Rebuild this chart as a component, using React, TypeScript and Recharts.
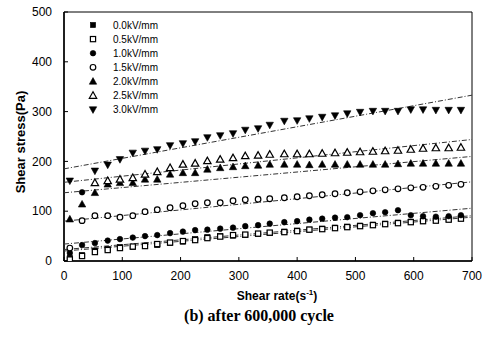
import { ComposedChart, Scatter, XAxis, YAxis, ReferenceArea } from 'recharts'

// shear rate (s^-1) of the measured points
const rate = [10, 31, 53, 75, 96, 118, 139, 160, 182, 204, 225, 246, 268, 290, 311, 333, 353, 378, 400, 421, 443, 465, 486, 508, 530, 551, 573, 595, 616, 638, 660, 681]

// shear stress (Pa) per field strength
const kv00 = [6, 12, 21, 24, 28, 28, 31, 32, 36, 39, 44, 48, 50, 51, 52, 54, 56, 59, 61, 63, 65, 67, 69, 71, 73, 75, 77, 79, 80, 82, 84, 86]
const kv05 = [3, 10, 18, 22, 26, 29, 30, 34, 37, 40, 42, 46, 49, 52, 53, 55, 57, 58, 60, 63, 64, 66, 68, 70, 72, 74, 76, 78, 80, 81, 83, 85]
const kv10 = [16, 32, 36, 41, 44, 47, 50, 52, 56, 59, 62, 63, 65, 67, 70, 72, 75, 78, 80, 83, 85, 87, 88, 92, 96, 98, 102, 92, 90, 89, 90, 92]
const kv15 = [26, 81, 91, 91, 88, 91, 99, 103, 107, 111, 115, 117, 117, 121, 123, 124, 125, 127, 129, 131, 133, 135, 137, 139, 141, 143, 145, 147, 148, 150, 152, 154]
const kv20 = [84, 114, 137, 154, 157, 157, 164, 164, 174, 177, 177, 184, 187, 189, 191, 192, 194, 194, 194, 193, 194, 194, 194, 194, 194, 194, 195, 196, 196, 196, 196, 196]
const kv25 = [null, null, 157, 161, 164, 167, 174, 179, 187, 194, 196, 201, 204, 207, 211, 212, 214, 215, 215, 215, 216, 217, 218, 219, 220, 221, 222, 224, 226, 227, 227, 228]
const kv30 = [161, null, 181, 193, 204, 217, 221, 224, 232, 236, 240, 248, 252, 256, 263, 266, 273, 281, 282, 286, 289, 292, 296, 299, 301, 301, 301, 304, 304, 303, 303, 303]
const kv10Extra = [{ x: 31, y: 138 }]

// fitted lines: stress at rate 0 and at rate 700
const fitStart = [20, 23, 34, 80, 137, 158, 185]
const fitEnd = [88, 91, 106, 159, 210, 244, 333]

const labels = ['0.0kV/mm', '0.5kV/mm', '1.0kV/mm', '1.5kV/mm', '2.0kV/mm', '2.5kV/mm', '3.0kV/mm']
const xTicks = [0, 100, 200, 300, 400, 500, 600, 700]
const yTicks = [0, 100, 200, 300, 400, 500]

const toPoints = (ys: (number | null)[]) =>
  rate.map((x, i) => ({ x, y: ys[i] })).filter((p) => p.y !== null)

type Kind = 'sq' | 'circ' | 'up' | 'down'
const marker = (kind: Kind, open: boolean, cx: number, cy: number) => {
  const fill = open ? '#fff' : '#000'
  const sw = open ? 1.2 : 0.6
  if (kind === 'sq') return <rect x={cx - 2.6} y={cy - 2.6} width={5.2} height={5.2} fill={fill} stroke="#000" strokeWidth={sw} />
  if (kind === 'circ') return <circle cx={cx} cy={cy} r={2.8} fill={fill} stroke="#000" strokeWidth={sw} />
  if (kind === 'up')
    return <polygon points={`${cx},${cy - 3.8} ${cx - 3.7},${cy + 2.8} ${cx + 3.7},${cy + 2.8}`} fill={fill} stroke="#000" strokeWidth={sw} />
  return <polygon points={`${cx},${cy + 3.8} ${cx - 3.7},${cy - 2.8} ${cx + 3.7},${cy - 2.8}`} fill={fill} stroke="#000" strokeWidth={sw} />
}

const styles: { kind: Kind; open: boolean }[] = [
  { kind: 'sq', open: false },
  { kind: 'sq', open: true },
  { kind: 'circ', open: false },
  { kind: 'circ', open: true },
  { kind: 'up', open: false },
  { kind: 'up', open: true },
  { kind: 'down', open: false },
]
const seriesData = [kv00, kv05, kv10, kv15, kv20, kv25, kv30].map(toPoints)
seriesData[2] = [...seriesData[2], ...kv10Extra]

const LegendBox = () => (
  <svg width={90} height={100} style={{ position: 'absolute', left: 85, top: 17 }}>
    {labels.map((l, i) => (
      <g key={l}>
        {marker(styles[i].kind, styles[i].open, 8, 8 + i * 14.1)}
        <text x={28} y={8 + i * 14.1} dy="0.35em" fontSize={10} fontFamily="Liberation Sans, Arial" fill="#000">
          {l}
        </text>
      </g>
    ))}
  </svg>
)

export default function App() {
  const font = 'Liberation Sans, Arial, sans-serif'
  return (
    <div style={{ position: 'absolute', left: 0, top: 0, width: 489, height: 337, background: '#fff' }}>
      <ComposedChart width={489} height={337} margin={{ top: 12, right: 17, bottom: 56, left: 0 }}>
        <XAxis
          type="number"
          dataKey="x"
          domain={[0, 700]}
          ticks={xTicks}
          height={20}
          tickSize={-4}
          tickMargin={14}
          axisLine={{ stroke: '#000', strokeWidth: 1.5 }}
          tickLine={{ stroke: '#000' }}
          tick={{ fill: '#000', fontSize: 12, fontFamily: font }}
          allowDataOverflow
        />
        <YAxis
          type="number"
          dataKey="y"
          domain={[0, 500]}
          ticks={yTicks}
          width={64}
          tickSize={-4}
          tickMargin={16}
          axisLine={{ stroke: '#000', strokeWidth: 1.5 }}
          tickLine={{ stroke: '#000' }}
          tick={{ fill: '#000', fontSize: 12, fontFamily: font }}
          allowDataOverflow
        />
        <ReferenceArea x1={0} x2={700} y1={0} y2={500} fill="none" stroke="#000" strokeWidth={1} ifOverflow="visible" />
        {fitStart.map((a, i) => (
          <Scatter
            key={'fit' + i}
            data={[
              { x: 0, y: a },
              { x: 700, y: fitEnd[i] },
            ]}
            line={{ stroke: '#333', strokeWidth: 1, strokeDasharray: '5 2 1 2' }}
            shape={() => <g />}
            legendType="none"
            isAnimationActive={false}
          />
        ))}
        {seriesData.map((d, i) => (
          <Scatter
            key={labels[i]}
            name={labels[i]}
            data={d}
            shape={(p: any) => marker(styles[i].kind, styles[i].open, p.cx, p.cy)}
            isAnimationActive={false}
          />
        ))}
      </ComposedChart>
      <LegendBox />
      <div
        style={{
          position: 'absolute',
          left: 20,
          top: 142,
          transform: 'translate(-50%, -50%) rotate(-90deg)',
          fontFamily: font,
          fontWeight: 'bold',
          fontSize: 13,
          whiteSpace: 'nowrap',
        }}
      >
        Shear stress(Pa)
      </div>
      <div
        style={{
          position: 'absolute',
          left: 277,
          top: 295,
          transform: 'translate(-50%, -50%)',
          fontFamily: font,
          fontWeight: 'bold',
          fontSize: 12,
          whiteSpace: 'nowrap',
        }}
      >
        Shear rate(s<sup style={{ fontSize: 8 }}>-1</sup>)
      </div>
      <div
        style={{
          position: 'absolute',
          left: 259,
          top: 316,
          transform: 'translate(-50%, -50%)',
          fontFamily: 'Liberation Serif, Times New Roman, serif',
          fontWeight: 'bold',
          fontSize: 16,
          whiteSpace: 'nowrap',
        }}
      >
        (b) after 600,000 cycle
      </div>
    </div>
  )
}
